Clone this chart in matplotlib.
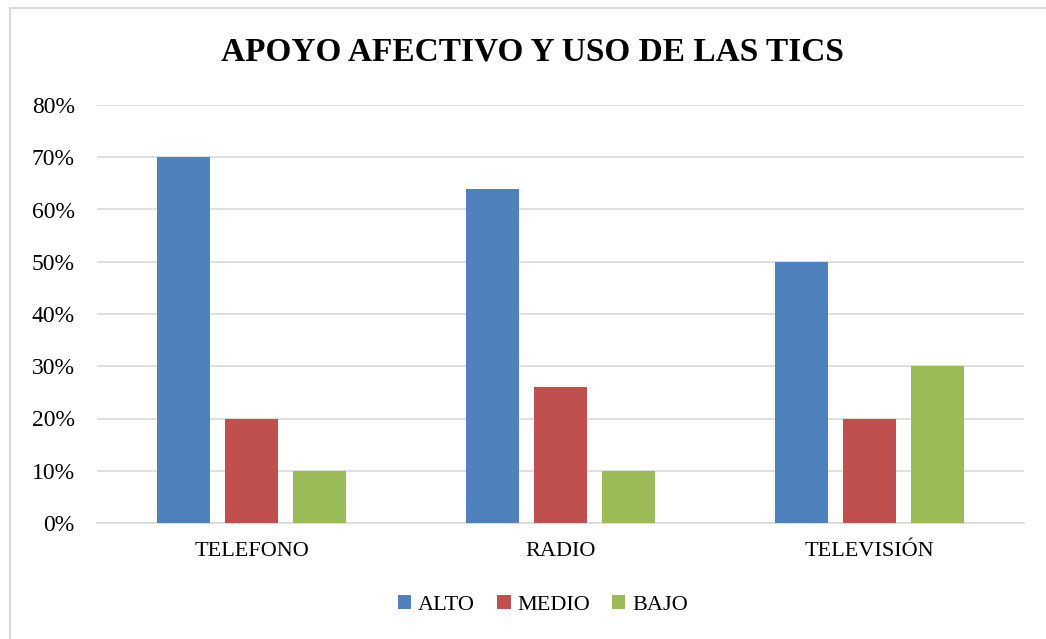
import numpy as np
import matplotlib
matplotlib.use('Agg')
import matplotlib.pyplot as plt
from matplotlib.patches import Rectangle
from matplotlib.ticker import PercentFormatter

# Data
categories = ['TELEFONO', 'RADIO', 'TELEVISIÓN']
series = ['ALTO', 'MEDIO', 'BAJO']
alto = [0.70, 0.64, 0.50]
medio = [0.20, 0.26, 0.20]
bajo = [0.10, 0.10, 0.30]
colors = ['#4F81BD', '#C0504D', '#9BBB59']

plt.rcParams['font.family'] = ['Liberation Serif', 'DejaVu Serif']

fig = plt.figure(figsize=(10.46, 6.39), dpi=100)
ax = fig.add_axes([97 / 1046, 1 - 523 / 639, (1024 - 97) / 1046, (523 - 105) / 639])

# Chart border
fig.patches.append(Rectangle((10 / 1046, -0.01), 1.05, 1 - 8 / 639 + 0.01,
                             transform=fig.transFigure, fill=False,
                             edgecolor='#D9D9D9', linewidth=1.5))

x = np.arange(len(categories))
width = 0.172
step = 0.22
for i, (vals, name) in enumerate(zip([alto, medio, bajo], series)):
    ax.bar(x + (i - 1) * step, vals, width, color=colors[i], label=name, zorder=3)

ax.set_xlim(-0.5, 2.5)
ax.set_ylim(0, 0.8)
ax.set_yticks(np.arange(0, 0.81, 0.1))
ax.yaxis.set_major_formatter(PercentFormatter(1.0, decimals=0))
ax.set_xticks(x)
ax.set_xticklabels(categories)
ax.grid(axis='y', color='#D9D9D9', linewidth=1.2, zorder=0)
for s in ['top', 'right', 'left']:
    ax.spines[s].set_visible(False)
ax.spines['bottom'].set_color('#D9D9D9')
ax.spines['bottom'].set_linewidth(1.2)
ax.tick_params(axis='both', length=0, colors='black')
ax.tick_params(axis='y', labelsize=17, pad=16)
ax.tick_params(axis='x', labelsize=16, pad=14)

fig.text(532 / 1046, 1 - 52 / 639, 'APOYO AFECTIVO Y USO DE LAS TICS',
         ha='center', va='center', fontsize=24, fontweight='bold')

fig.legend(loc='center', bbox_to_anchor=(543 / 1046, 1 - 605 / 639), ncol=3,
           frameon=False, fontsize=16, handlelength=0.6, handleheight=0.6,
           handletextpad=0.3, columnspacing=1.0)

plt.savefig('out.png', dpi=100)
